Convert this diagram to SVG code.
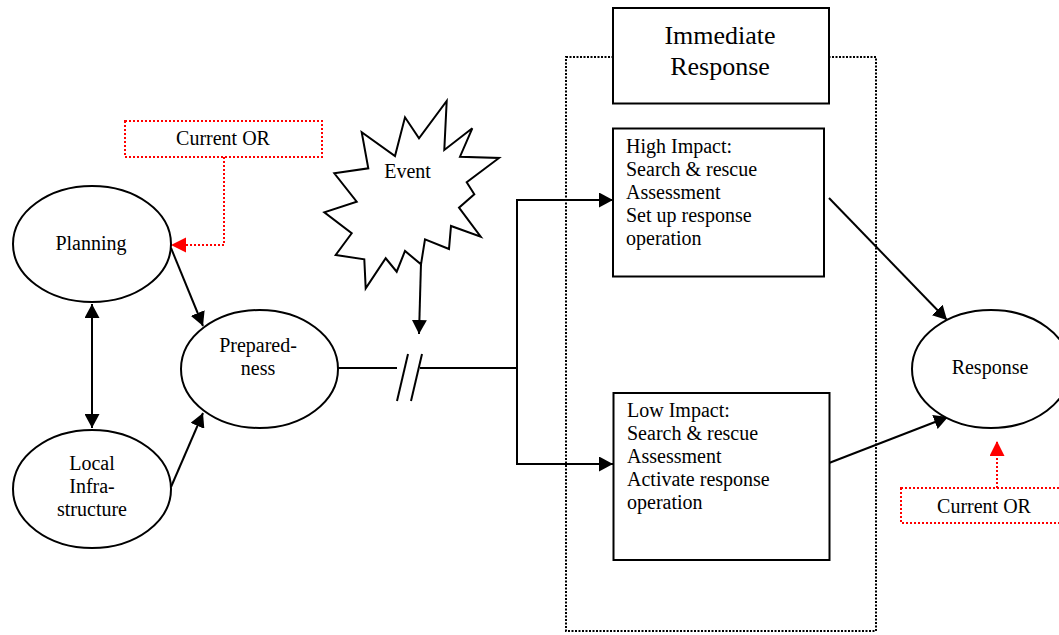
<svg xmlns="http://www.w3.org/2000/svg" width="1059" height="635" viewBox="0 0 1059 635">
<style>
text{font-family:"Liberation Serif","Times New Roman",serif;font-size:20px;fill:#000}
.c{text-anchor:middle}
.n{fill:#fff;stroke:#000;stroke-width:2}
.ln{fill:none;stroke:#000;stroke-width:2}
.red{fill:none;stroke:#f00;stroke-width:2;stroke-dasharray:2 2}
.dot{fill:none;stroke:#000;stroke-width:2;stroke-dasharray:2 1.5}
</style>
<defs>
<marker id="ab" markerUnits="userSpaceOnUse" markerWidth="15" markerHeight="15" refX="14" refY="7.5" orient="auto-start-reverse"><path d="M0,0 L14,7.5 L0,15 z" fill="#000"/></marker>
<marker id="ar" markerUnits="userSpaceOnUse" markerWidth="16" markerHeight="16" refX="15" refY="7.5" orient="auto"><path d="M0,0 L15,7.5 L0,15 z" fill="#f00"/></marker>
</defs>
<rect class="dot" x="566" y="57" width="310" height="574"/>
<g id="connectors">
<line class="ln" x1="92" y1="304" x2="92" y2="428" marker-start="url(#ab)" marker-end="url(#ab)"/>
<line class="ln" x1="171" y1="248" x2="203" y2="326" marker-end="url(#ab)"/>
<line class="ln" x1="171" y1="487" x2="203" y2="413" marker-end="url(#ab)"/>
<line class="ln" x1="338" y1="368" x2="397" y2="368"/>
<line class="ln" x1="397" y1="401" x2="408" y2="354"/>
<line class="ln" x1="411" y1="401" x2="422" y2="354"/>
<line class="ln" x1="420" y1="368" x2="517" y2="368"/>
<polyline class="ln" points="613,200 517,200 517,464 613,464" marker-start="url(#ab)" marker-end="url(#ab)"/>
<line class="ln" x1="421" y1="263" x2="419" y2="334" marker-end="url(#ab)"/>
<line class="ln" x1="829" y1="198" x2="947" y2="320" marker-end="url(#ab)"/>
<line class="ln" x1="829" y1="463" x2="948" y2="417" marker-end="url(#ab)"/>
<polyline class="red" points="224,157 224,245 171,245" marker-end="url(#ar)"/>
<line class="red" x1="997" y1="488" x2="997" y2="441" marker-end="url(#ar)"/>
</g>
<g id="planning"><ellipse class="n" cx="92" cy="244" rx="79" ry="58"/><text class="c" x="91" y="250">Planning</text></g>
<g id="local-infrastructure"><ellipse class="n" cx="92" cy="489" rx="79" ry="59"/><text class="c" x="92" y="470">Local</text><text class="c" x="92" y="493">Infra-</text><text class="c" x="92" y="516">structure</text></g>
<g id="preparedness"><ellipse class="n" cx="259.5" cy="369" rx="78.5" ry="59"/><text class="c" x="258" y="352">Prepared-</text><text class="c" x="258" y="375">ness</text></g>
<g id="response"><ellipse class="n" cx="991" cy="369" rx="79" ry="59"/><text class="c" x="990" y="374">Response</text></g>
<g id="event"><polygon class="n" points="446.7,101 444.3,150 472.3,128.3 460,156.7 499,158 466.7,182.3 474.3,194.3 459,207.7 480.7,236.7 451,226 449,249 425,239.3 421,264.3 405,251 396.7,271.7 385.7,258.3 365.7,288.3 364.3,259.3 335.7,255 351.7,233.3 324.3,212.3 356.7,201.7 334.3,173.3 368.3,168.3 361.7,132.3 395,156 405,117.3 419,138.3"/><text class="c" x="407.5" y="178">Event</text></g>
<g id="current-or-top"><rect class="red" x="125" y="121" width="197" height="36"/><text class="c" x="223" y="145">Current OR</text></g>
<g id="current-or-bottom"><rect class="red" x="901" y="488" width="170" height="35"/><text class="c" x="984" y="513">Current OR</text></g>
<g id="immediate-response"><rect class="n" x="613" y="8" width="216" height="95.5"/><text class="c" x="720" y="44" style="font-size:26px">Immediate</text><text class="c" x="720" y="75" style="font-size:26px">Response</text></g>
<g id="high-impact"><rect class="n" x="613" y="128.5" width="211" height="148"/><text x="626" y="153">High Impact:</text><text x="626" y="176">Search &amp; rescue</text><text x="626" y="199">Assessment</text><text x="626" y="222">Set up response</text><text x="626" y="245">operation</text></g>
<g id="low-impact"><rect class="n" x="613.5" y="393" width="216" height="167"/><text x="627" y="417">Low Impact:</text><text x="627" y="440">Search &amp; rescue</text><text x="627" y="463">Assessment</text><text x="627" y="486">Activate response</text><text x="627" y="509">operation</text></g>
</svg>
